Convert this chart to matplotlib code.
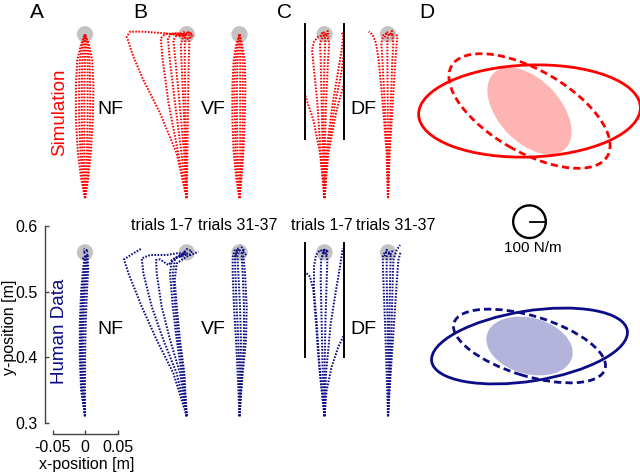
import matplotlib
matplotlib.use('Agg')
import matplotlib.pyplot as plt
from matplotlib.patches import Circle, Ellipse

plt.rcParams['font.family'] = ['Liberation Sans', 'DejaVu Sans']

# ---------------- data (metres, relative to each column's start point) ----------------
# Simulation, null field (NF)
sim_nf = [
    [(0, 0.31), (-0.006, 0.34), (-0.011, 0.38), (-0.014, 0.43), (-0.014, 0.48), (-0.012, 0.52), (-0.006, 0.545), (0, 0.56)],
    [(0, 0.31), (-0.004, 0.34), (-0.007, 0.38), (-0.009, 0.43), (-0.009, 0.48), (-0.008, 0.52), (-0.004, 0.545), (0, 0.56)],
    [(0, 0.31), (-0.002, 0.34), (-0.004, 0.38), (-0.005, 0.43), (-0.005, 0.48), (-0.004, 0.52), (-0.002, 0.545), (0, 0.56)],
    [(0, 0.31), (0.000, 0.34), (-0.001, 0.38), (-0.001, 0.43), (-0.001, 0.48), (0.000, 0.52), (0.000, 0.545), (0, 0.56)],
    [(0, 0.31), (0.002, 0.34), (0.003, 0.38), (0.004, 0.43), (0.004, 0.48), (0.004, 0.52), (0.002, 0.545), (0, 0.56)],
    [(0, 0.31), (0.004, 0.34), (0.006, 0.38), (0.008, 0.43), (0.008, 0.48), (0.007, 0.52), (0.004, 0.545), (0, 0.56)],
    [(0, 0.31), (0.005, 0.34), (0.009, 0.38), (0.012, 0.43), (0.013, 0.48), (0.011, 0.52), (0.006, 0.545), (0, 0.56)],
]
# Simulation, velocity-dependent field, trials 1-7
sim_vf_early = [
    [(0, 0.31), (-0.0154, 0.378), (-0.041, 0.4395), (-0.0668, 0.4904), (-0.0822, 0.526), (-0.0923, 0.5565),
     (-0.0872, 0.564), (-0.0668, 0.564), (-0.036, 0.5617), (-0.0154, 0.559), (-0.003, 0.559)],
    [(0, 0.31), (-0.013, 0.378), (-0.028, 0.455), (-0.037, 0.521), (-0.040, 0.554), (-0.033, 0.5605), (-0.015, 0.5615), (-0.001, 0.559)],
    [(0, 0.31), (-0.008, 0.378), (-0.018, 0.455), (-0.026, 0.521), (-0.029, 0.554), (-0.023, 0.5605), (-0.010, 0.5615), (-0.001, 0.559)],
    [(0, 0.31), (-0.004, 0.378), (-0.011, 0.455), (-0.0175, 0.521), (-0.0206, 0.551), (-0.0154, 0.559), (-0.001, 0.559)],
    [(0, 0.31), (-0.002, 0.378), (-0.005, 0.455), (-0.008, 0.517), (-0.009, 0.545), (-0.005, 0.558), (0, 0.56)],
    [(0, 0.31), (-0.001, 0.378), (-0.002, 0.455), (-0.003, 0.517), (-0.003, 0.545), (-0.001, 0.558), (0, 0.56)],
    [(0, 0.31), (0.001, 0.378), (0.002, 0.455), (0.003, 0.517), (0.004, 0.545), (0.004, 0.558), (0.002, 0.56)],
    [(-0.012, 0.556), (-0.005, 0.563), (0.005, 0.562), (0.009, 0.557), (0.001, 0.553), (-0.006, 0.557), (0.003, 0.563), (0.008, 0.56)],
]
# Simulation, velocity-dependent field, trials 31-37
sim_vf_late = [
    [(0, 0.31), (-0.005, 0.34), (-0.009, 0.38), (-0.011, 0.43), (-0.011, 0.48), (-0.009, 0.52), (-0.005, 0.545), (0, 0.56)],
    [(0, 0.31), (-0.003, 0.34), (-0.006, 0.38), (-0.007, 0.43), (-0.008, 0.48), (-0.006, 0.52), (-0.003, 0.545), (0, 0.56)],
    [(0, 0.31), (-0.001, 0.34), (-0.003, 0.38), (-0.004, 0.43), (-0.004, 0.48), (-0.003, 0.52), (-0.001, 0.545), (0, 0.56)],
    [(0, 0.31), (0.001, 0.34), (0.001, 0.38), (0.001, 0.43), (0.001, 0.48), (0.001, 0.52), (0.001, 0.545), (0, 0.56)],
    [(0, 0.31), (0.002, 0.34), (0.004, 0.38), (0.005, 0.43), (0.005, 0.48), (0.005, 0.52), (0.003, 0.545), (0, 0.56)],
    [(0, 0.31), (0.003, 0.34), (0.006, 0.38), (0.008, 0.43), (0.009, 0.48), (0.008, 0.52), (0.004, 0.545), (0, 0.56)],
]
# Simulation, divergent field, trials 1-7
sim_df_early = [
    [(0, 0.31), (-0.0069, 0.3785), (-0.0172, 0.429), (-0.030, 0.4675)],
    [(0, 0.31), (-0.0059, 0.3785), (-0.011, 0.4548), (-0.0162, 0.5056), (-0.0192, 0.5362), (-0.0162, 0.5489), (-0.0095, 0.5565), (-0.0018, 0.559)],
    [(0, 0.31), (-0.0028, 0.3785), (-0.0044, 0.4548), (-0.0059, 0.521), (-0.0069, 0.5464), (-0.0028, 0.5565), (0.0008, 0.559)],
    [(0, 0.31), (-0.0015, 0.3785), (-0.0015, 0.4548), (0.000, 0.521), (0.001, 0.551), (0.000, 0.561)],
    [(0, 0.31), (0.0003, 0.3785), (0.0023, 0.4548), (0.0054, 0.521), (0.0074, 0.5464), (0.0044, 0.5565), (0.0008, 0.5616)],
    [(0, 0.31), (0.0023, 0.3785), (0.0126, 0.4548), (0.0213, 0.5056), (0.0264, 0.5362), (0.029, 0.559), (0.0249, 0.5641)],
    [(0, 0.31), (0.0044, 0.3785), (0.0162, 0.4548), (0.0249, 0.4955), (0.030, 0.531)],
    [(0, 0.31), (0.0059, 0.3785), (0.0187, 0.4446), (0.030, 0.4853)],
    [(-0.006, 0.556), (-0.003, 0.564), (0.002, 0.560), (0.005, 0.565), (0.006, 0.556)],
]
# Simulation, divergent field, trials 31-37
sim_df_late = [
    [(0, 0.31), (-0.0021, 0.3785), (-0.0082, 0.4548), (-0.0144, 0.521), (-0.0185, 0.5464), (-0.0236, 0.559), (-0.0297, 0.5641)],
    [(0, 0.31), (-0.0015, 0.3785), (-0.0051, 0.4548), (-0.0087, 0.521), (-0.0103, 0.5464), (-0.0072, 0.559), (-0.001, 0.5616)],
    [(0, 0.31), (0.000, 0.3785), (-0.0005, 0.4548), (-0.001, 0.521), (-0.001, 0.5514), (0.001, 0.5616)],
    [(0, 0.31), (0.0015, 0.3785), (0.0041, 0.4548), (0.0067, 0.521), (0.0082, 0.5464), (0.0062, 0.559), (0.0031, 0.5616)],
    [(0, 0.31), (0.0026, 0.3785), (0.0072, 0.4548), (0.0113, 0.521), (0.0133, 0.5464), (0.0144, 0.5565), (0.0123, 0.5616)],
    [(-0.005, 0.555), (-0.002, 0.564), (0.003, 0.558), (0.006, 0.565), (0.008, 0.556)],
]
# Human data, null field
hum_nf = [
    [(0, 0.31), (-0.006, 0.35), (-0.008, 0.40), (-0.008, 0.45), (-0.006, 0.50), (-0.003, 0.535), (0.000, 0.556)],
    [(0, 0.31), (-0.005, 0.35), (-0.007, 0.40), (-0.006, 0.45), (-0.004, 0.50), (-0.001, 0.535), (0.001, 0.556)],
    [(0, 0.31), (-0.003, 0.35), (-0.005, 0.40), (-0.004, 0.45), (-0.002, 0.50), (0.001, 0.535), (0.002, 0.556)],
    [(0, 0.31), (-0.002, 0.35), (-0.003, 0.40), (-0.002, 0.45), (0.000, 0.50), (0.003, 0.535), (0.003, 0.556)],
    [(0, 0.31), (0.000, 0.35), (0.000, 0.40), (0.001, 0.45), (0.003, 0.50), (0.005, 0.535), (0.004, 0.556)],
    [(-0.004, 0.55), (0.004, 0.556), (-0.003, 0.561), (0.005, 0.562), (-0.002, 0.566)],
]
# Human data, velocity-dependent field, trials 1-7
hum_vf_early = [
    [(0, 0.31), (-0.0205, 0.3754), (-0.0462, 0.4263), (-0.0692, 0.4772), (-0.0897, 0.528), (-0.0964, 0.5494), (-0.0821, 0.5586), (-0.0692, 0.5662)],
    [(0, 0.31), (-0.0154, 0.3754), (-0.0359, 0.4263), (-0.0538, 0.4772), (-0.0667, 0.528), (-0.0692, 0.5509), (-0.0564, 0.556),
     (-0.0308, 0.556), (-0.0154, 0.5586), (0, 0.5586)],
    [(0, 0.31), (-0.0103, 0.3754), (-0.0256, 0.4263), (-0.0385, 0.4772), (-0.0462, 0.528), (-0.0472, 0.5484), (-0.041, 0.5494),
     (-0.0282, 0.5407), (-0.0179, 0.5509), (-0.0026, 0.556)],
    [(0, 0.31), (-0.0077, 0.3754), (-0.0154, 0.4263), (-0.0215, 0.4772), (-0.0256, 0.528), (-0.0231, 0.5484), (-0.0103, 0.556), (0, 0.556)],
    [(0, 0.31), (-0.0051, 0.3754), (-0.0128, 0.4263), (-0.0179, 0.4772), (-0.0215, 0.528), (-0.0179, 0.5509), (-0.0026, 0.5586)],
    [(0, 0.31), (-0.0036, 0.3754), (-0.0103, 0.4263), (-0.0154, 0.4772), (-0.0185, 0.5178), (-0.0154, 0.5433), (0, 0.5535), (0.018, 0.5611)],
    [(-0.010, 0.553), (-0.004, 0.561), (0.004, 0.556), (0.008, 0.562), (0.000, 0.565), (-0.006, 0.557)],
]
# Human data, velocity-dependent field, trials 31-37
hum_vf_late = [
    [(0, 0.31), (-0.0028, 0.3754), (-0.0054, 0.4263), (-0.0085, 0.4772), (-0.0105, 0.528), (-0.0105, 0.5535), (-0.0064, 0.566)],
    [(0, 0.31), (0.000, 0.3754), (-0.0018, 0.4263), (-0.0044, 0.4772), (-0.0064, 0.528), (-0.0069, 0.5535), (-0.0033, 0.566)],
    [(0, 0.31), (0.0018, 0.3754), (0.0023, 0.4263), (0.0008, 0.4772), (-0.0018, 0.528), (-0.0033, 0.5535), (0.0008, 0.566)],
    [(0, 0.31), (0.0038, 0.3754), (0.0069, 0.4263), (0.0069, 0.4772), (0.0049, 0.528), (0.0033, 0.5535), (0.0059, 0.566)],
    [(0, 0.31), (0.0049, 0.3754), (0.010, 0.4263), (0.011, 0.4772), (0.0085, 0.528), (0.0059, 0.5535), (0.011, 0.5586)],
    [(-0.006, 0.555), (-0.002, 0.566), (0.004, 0.558), (0.008, 0.562), (0.001, 0.571)],
]
# Human data, divergent field, trials 1-7
hum_df_early = [
    [(0, 0.31), (-0.0044, 0.3499), (-0.0095, 0.4008), (-0.0131, 0.4517), (-0.0172, 0.5026), (-0.0223, 0.5229), (-0.030, 0.5306)],
    [(0, 0.31), (-0.0069, 0.3754), (-0.012, 0.4517), (-0.0162, 0.5026), (-0.0162, 0.5382), (-0.0131, 0.556), (-0.0069, 0.5637), (0, 0.5596)],
    [(0, 0.31), (-0.0028, 0.3754), (-0.0044, 0.4517), (-0.0059, 0.5178), (-0.0054, 0.5484), (-0.0018, 0.5586), (0.0023, 0.5586)],
    [(0, 0.31), (0.000, 0.3754), (0.0013, 0.4517), (0.0033, 0.5178), (0.0044, 0.5484), (0.0013, 0.5586), (-0.0028, 0.5611)],
    [(0, 0.31), (0.0033, 0.3499), (0.011, 0.3855), (0.0213, 0.416), (0.030, 0.4339)],
    [(0, 0.31), (0.0023, 0.3754), (0.0095, 0.4517), (0.0177, 0.5026), (0.0238, 0.5382), (0.0269, 0.5586), (0.0279, 0.5662)],
    [(-0.004, 0.553), (-0.001, 0.566), (0.003, 0.556), (0.005, 0.564), (-0.002, 0.560)],
]
# Human data, divergent field, trials 31-37
hum_df_late = [
    [(0, 0.31), (-0.0021, 0.3754), (-0.0046, 0.4517), (-0.0072, 0.5178), (-0.0082, 0.5535), (-0.0046, 0.5611), (0.0005, 0.5586)],
    [(0, 0.31), (0.0005, 0.3754), (-0.0005, 0.4517), (-0.0021, 0.5178), (-0.0021, 0.5535), (0.0031, 0.5611)],
    [(0, 0.31), (0.0031, 0.3754), (0.0056, 0.4517), (0.0072, 0.5178), (0.0082, 0.5484), (0.0133, 0.5637), (0.0185, 0.5713)],
    [(0, 0.31), (0.0041, 0.3754), (0.0092, 0.4517), (0.0133, 0.5127), (0.0159, 0.5484), (0.0195, 0.5611)],
    [(0, 0.31), (0.0021, 0.3754), (0.0021, 0.4517), (0.0031, 0.5178), (0.0041, 0.5535), (0.0005, 0.5596)],
    [(-0.005, 0.554), (-0.002, 0.564), (0.004, 0.557), (0.007, 0.563)],
]

target = (0.0, 0.56)
target_radius = 0.0125
wall_x = [-0.03, 0.03]
wall_y = [0.40, 0.575]

# Stiffness ellipses (N/m): (semi-major, semi-minor, angle deg)
sim_stiff_nf = (680, 282, 2)        # solid
sim_stiff_df = (552, 251, -30)      # dashed
sim_stiff_vf = (319, 190, -47)      # shaded
hum_stiff_nf = (607, 215, 9)
hum_stiff_df = (484, 184, -17)
hum_stiff_vf = (270, 172, -15)
scale_stiffness = 100  # N/m

# ---------------- layout ----------------
W, H = 640, 473
fig = plt.figure(figsize=(W / 100, H / 100), dpi=100)

def fx(px):
    return px / W

def fy(py):
    return 1 - py / H

ax = fig.add_axes([0, 0, 1, 1])
ax.set_xlim((0 - 85) / 650, (640 - 85) / 650)
ax.set_ylim(0.3 + (422.7 - 473) / 655, 0.3 + 422.7 / 655)
ax.patch.set_visible(False)

RED = '#ff0000'
NAVY = '#0c0c86'
col_off = {'A': 0.0, 'B1': 0.1565, 'B2': 0.2377, 'C1': 0.3685, 'C2': 0.4662}
row_off = {'sim': 0.333, 'hum': 0.0}

panels = [
    ('sim', 'A', sim_nf, RED), ('sim', 'B1', sim_vf_early, RED), ('sim', 'B2', sim_vf_late, RED),
    ('sim', 'C1', sim_df_early, RED), ('sim', 'C2', sim_df_late, RED),
    ('hum', 'A', hum_nf, NAVY), ('hum', 'B1', hum_vf_early, NAVY), ('hum', 'B2', hum_vf_late, NAVY),
    ('hum', 'C1', hum_df_early, NAVY), ('hum', 'C2', hum_df_late, NAVY),
]
for row, col, trajs, c in panels:
    dx, dy = col_off[col], row_off[row]
    ax.add_patch(Circle((target[0] + dx, target[1] + dy), target_radius,
                        facecolor='#c3c3c3', edgecolor='none', zorder=1))
    for tr in trajs:
        xs = [p[0] + dx for p in tr]
        ys = [p[1] + dy for p in tr]
        ax.plot(xs, ys, color=c, lw=1.45, linestyle=(0, (0.8, 0.75)), zorder=2,
                dash_capstyle='butt')

for row in ('sim', 'hum'):
    for wx in wall_x:
        ax.plot([wx + col_off['C1']] * 2, [wall_y[0] + row_off[row], wall_y[1] + row_off[row]],
                color='black', lw=1.4, zorder=3)

# axes spines (only for the human NF panel)
for s in ('top', 'right'):
    ax.spines[s].set_visible(False)
ax.spines['left'].set_position(('data', (45 - 85) / 650))
ax.spines['left'].set_bounds(0.3, 0.6)
ax.spines['bottom'].set_position(('data', 0.3 + (422.7 - 434) / 655))
ax.spines['bottom'].set_bounds(-0.05, 0.05)
for s in ('left', 'bottom'):
    ax.spines[s].set_color('#444444')
    ax.spines[s].set_linewidth(1.0)
ax.set_yticks([0.3, 0.4, 0.5, 0.6])
ax.set_yticklabels(['0.3', '0.4', '0.5', '0.6'])
ax.set_xticks([-0.05, 0, 0.05])
ax.set_xticklabels(['-0.05', '0', '0.05'])
ax.tick_params(direction='in', length=3, width=1.0, color='#444444', labelsize=11.5, pad=4)
ax.tick_params(axis='y', pad=5)

# ---------------- stiffness ellipses ----------------
axd = fig.add_axes([fx(390), 0, fx(250), 1])
axd.axis('off')
k = 6.13  # N/m per pixel
axd.set_xlim((390 - 529.5) * k, (640 - 529.5) * k)
axd.set_ylim((221.7 - 473) * k, 221.7 * k)
cy_sim = (221.7 - 111) * k
cy_hum = (221.7 - 346) * k

def ell(cy, p, **kw):
    a, b, ang = p
    return Ellipse((0, cy), 2 * a, 2 * b, angle=ang, **kw)

axd.add_patch(ell(cy_sim, sim_stiff_vf, facecolor='#ffb4b4', edgecolor='none'))
axd.add_patch(ell(cy_sim, sim_stiff_nf, facecolor='none', edgecolor=RED, lw=2.0))
axd.add_patch(ell(cy_sim, sim_stiff_df, facecolor='none', edgecolor=RED, lw=2.0, linestyle=(0, (2.6, 1.5))))
axd.add_patch(ell(cy_hum, hum_stiff_vf, facecolor='#b3b3dc', edgecolor='none'))
axd.add_patch(ell(cy_hum, hum_stiff_nf, facecolor='none', edgecolor=NAVY, lw=2.0))
axd.add_patch(ell(cy_hum, hum_stiff_df, facecolor='none', edgecolor=NAVY, lw=2.0, linestyle=(0, (2.6, 1.5))))
axd.add_patch(Circle((0, 0), scale_stiffness, facecolor='none', edgecolor='black', lw=1.7))
axd.plot([0, scale_stiffness], [0, 0], color='black', lw=1.3)

# ---------------- texts ----------------
for lab, px in (('A', 37), ('B', 140), ('C', 284), ('D', 427)):
    fig.text(fx(px), fy(12), lab, fontsize=15, ha='center', va='center')
fig.text(fx(60), fy(112), 'Simulation', color=RED, fontsize=13.5, rotation=90, ha='center', va='center')
fig.text(fx(60), fy(331), 'Human Data', color=NAVY, fontsize=13.5, rotation=90, ha='center', va='center')
for lab, px in (('NF', 110), ('VF', 213), ('DF', 363)):
    fig.text(fx(px), fy(109), lab, fontsize=14, ha='center', va='center')
    fig.text(fx(px), fy(329), lab, fontsize=14, ha='center', va='center')
for lab, px in (('trials 1-7', 162), ('trials 31-37', 238), ('trials 1-7', 322), ('trials 31-37', 396)):
    fig.text(fx(px), fy(225), lab, fontsize=11.5, ha='center', va='center')
fig.text(fx(533), fy(248), '100 N/m', fontsize=11, ha='center', va='center')
fig.text(fx(10), fy(327), 'y-position [m]', fontsize=11.5, rotation=90, ha='center', va='center')
fig.text(fx(87), fy(464), 'x-position [m]', fontsize=11.5, ha='center', va='center')

fig.savefig('out.png', dpi=100)
